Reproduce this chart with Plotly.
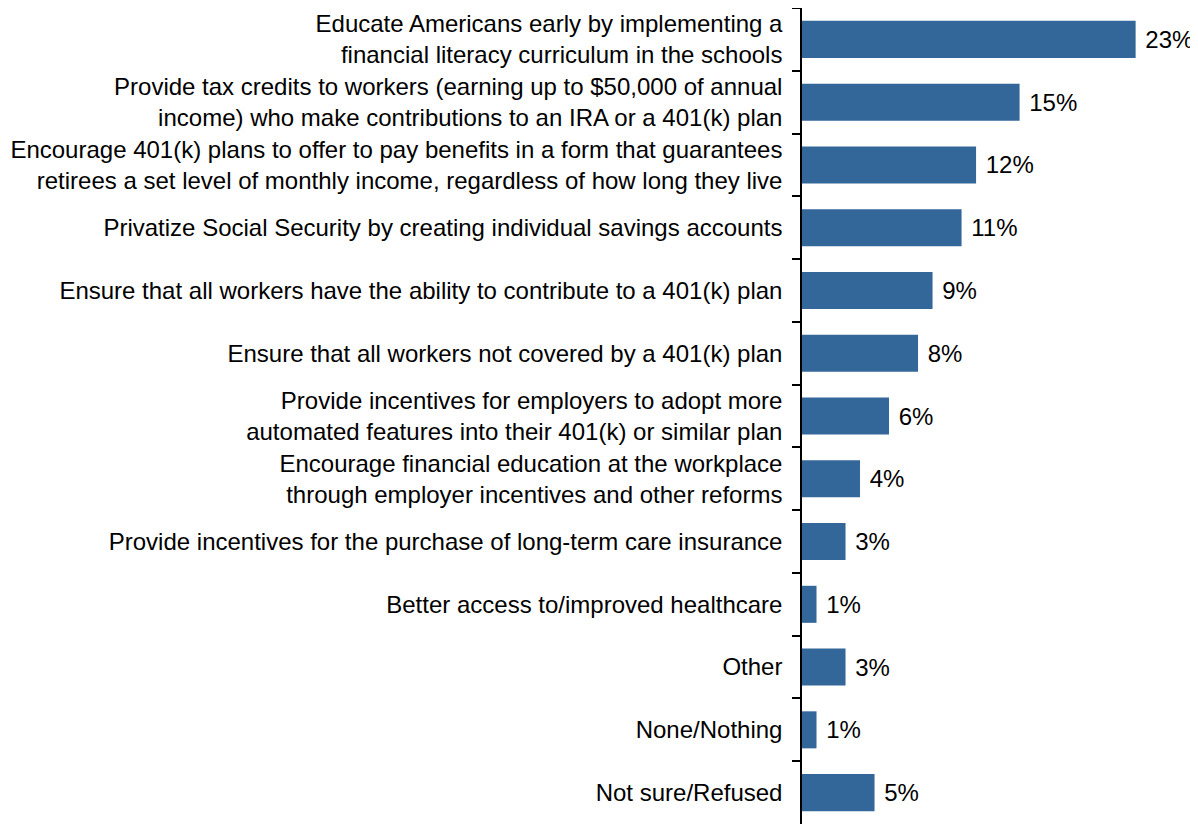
import plotly.graph_objects as go

categories = [
    "Educate Americans early by implementing a<br>financial literacy curriculum in the schools",
    "Provide tax credits to workers (earning up to $50,000 of annual<br>income) who make contributions to an IRA or a 401(k) plan",
    "Encourage 401(k) plans to offer to pay benefits in a form that guarantees<br>retirees a set level of monthly income, regardless of how long they live",
    "Privatize Social Security by creating individual savings accounts",
    "Ensure that all workers have the ability to contribute to a 401(k) plan",
    "Ensure that all workers not covered by a 401(k) plan",
    "Provide incentives for employers to adopt more<br>automated features into their 401(k) or similar plan",
    "Encourage financial education at the workplace<br>through employer incentives and other reforms",
    "Provide incentives for the purchase of long-term care insurance",
    "Better access to/improved healthcare",
    "Other",
    "None/Nothing",
    "Not sure/Refused",
]
values = [23, 15, 12, 11, 9, 8, 6, 4, 3, 1, 3, 1, 5]
labels = [f"{v}%" for v in values]

FONT = "Liberation Sans, Arial, sans-serif"

fig = go.Figure(go.Bar(
    x=values,
    y=categories,
    orientation="h",
    marker=dict(color="#336699", line=dict(width=0)),
    text=[" " + t for t in labels],
    textposition="outside",
    cliponaxis=False,
    textfont=dict(family=FONT, size=24, color="black"),
    width=0.59,
))

fig.update_layout(
    width=1190,
    height=816,
    margin=dict(l=794, r=0, t=0, b=0),
    paper_bgcolor="white",
    plot_bgcolor="white",
    showlegend=False,
    font=dict(family=FONT, size=24, color="black"),
    xaxis=dict(range=[0, 27.3], visible=False, showgrid=False, zeroline=False),
    yaxis=dict(
        autorange="reversed",
        automargin=False,
        showline=True,
        linecolor="black",
        linewidth=1.5,
        ticks="outside",
        tickson="boundaries",
        ticklen=8,
        tickwidth=1.5,
        tickcolor="black",
        ticklabelstandoff=13,
        showgrid=False,
        zeroline=False,
        tickfont=dict(family=FONT, size=24, color="black"),
    ),
)

fig.write_html("out.html")
